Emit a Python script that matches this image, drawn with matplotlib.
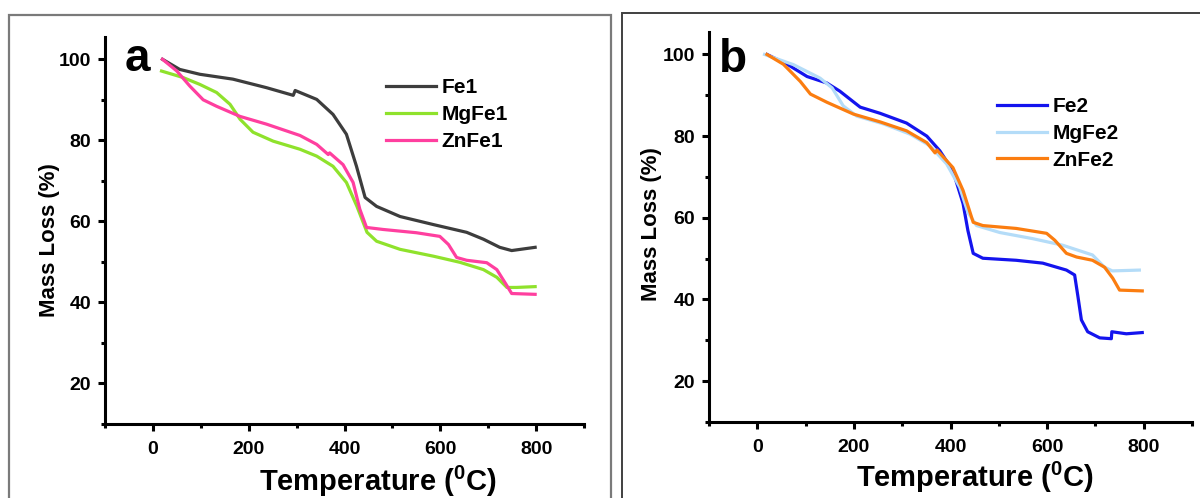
import matplotlib
matplotlib.use("Agg")
import matplotlib.pyplot as plt
from matplotlib.patches import Rectangle
from matplotlib.ticker import MultipleLocator

plt.rcParams['font.family'] = ['Liberation Sans', 'DejaVu Sans']
plt.rcParams['font.weight'] = 'bold'
plt.rcParams['mathtext.fontset'] = 'custom'
plt.rcParams['mathtext.rm'] = 'Liberation Sans:bold'
plt.rcParams['mathtext.bf'] = 'Liberation Sans:bold'
plt.rcParams['mathtext.default'] = 'bf'

# ---------------- data ----------------
fe1_t = [20, 56, 98, 167, 237, 293, 297, 342, 376, 404, 425, 443, 467, 516, 586, 655, 690, 724, 749, 798]
fe1_v = [100, 97.5, 96.3, 95.1, 93.0, 91.1, 92.3, 90.1, 86.4, 81.5, 73.6, 65.9, 63.7, 61.2, 59.2, 57.3, 55.6, 53.6, 52.8, 53.6]

mgfe1_t = [18, 63, 98, 133, 161, 182, 209, 251, 307, 342, 376, 404, 426, 447, 467, 516, 586, 641, 690, 718, 739, 759, 798]
mgfe1_v = [97.1, 95.5, 93.8, 91.8, 88.9, 85.2, 82.0, 79.8, 77.8, 76.1, 73.6, 69.6, 63.7, 57.3, 55.1, 53.1, 51.4, 49.9, 48.1, 46.2, 43.7, 43.7, 43.9]

znfe1_t = [20, 50, 77, 105, 133, 182, 237, 307, 342, 366, 369, 397, 418, 432, 446, 481, 550, 599, 617, 634, 655, 697, 718, 735, 749, 798]
znfe1_v = [100, 97.1, 93.4, 90.0, 88.4, 85.9, 84.0, 81.2, 79.0, 76.5, 76.9, 74.0, 69.6, 63.0, 58.5, 58.0, 57.2, 56.3, 54.3, 51.1, 50.4, 49.8, 48.1, 44.9, 42.2, 42.0]

fe2_t = [20, 62, 103, 144, 171, 213, 254, 309, 351, 378, 405, 426, 436, 447, 467, 536, 591, 640, 657, 664, 671, 684, 709, 733, 734, 764, 797]
fe2_v = [100, 97.6, 94.6, 93.0, 91.0, 87.1, 85.6, 83.2, 80.0, 76.4, 71.5, 63.5, 56.9, 51.3, 50.1, 49.6, 48.9, 47.2, 46.0, 40.6, 35.0, 32.1, 30.6, 30.4, 32.1, 31.6, 31.9]

mgfe2_t = [15, 75, 130, 155, 178, 206, 261, 316, 358, 392, 419, 436, 454, 502, 570, 632, 694, 719, 735, 791]
mgfe2_v = [100, 97.5, 94.2, 91.8, 87.4, 84.9, 83.0, 80.5, 77.6, 73.2, 67.5, 61.3, 58.1, 56.4, 54.9, 53.3, 50.9, 47.9, 47.0, 47.2]

znfe2_t = [20, 54, 89, 110, 144, 199, 254, 309, 351, 368, 372, 405, 426, 447, 467, 536, 599, 616, 640, 661, 694, 719, 736, 750, 797]
znfe2_v = [100, 97.6, 93.4, 90.3, 88.3, 85.4, 83.5, 81.3, 78.4, 75.9, 76.6, 72.3, 66.7, 58.9, 58.1, 57.4, 56.2, 54.5, 51.3, 50.4, 49.6, 47.9, 45.2, 42.3, 42.1]

labels_a = ['Fe1', 'MgFe1', 'ZnFe1']
labels_b = ['Fe2', 'MgFe2', 'ZnFe2']
colors_a = ['#3d3d3d', '#8fe22c', '#ff3f9f']
colors_b = ['#1414ee', '#b4dcf8', '#fb7d10']
xticks = [0, 200, 400, 600, 800]
yticks = [20, 40, 60, 80, 100]
xlabel = r'Temperature ($^{0}$C)'
ylabel = 'Mass Loss (%)'

# ---------------- figure ----------------
fig = plt.figure(figsize=(12, 4.98), dpi=100)

# panel frames
fig.patches.append(Rectangle((9 / 1200, -0.1), (611 - 9) / 1200, 1.1 - 15 / 498,
                             transform=fig.transFigure, fill=False, edgecolor='#7a7a7a', lw=1.6))
fig.patches.append(Rectangle((622 / 1200, -0.1), 0.6, 1.1 - 13 / 498,
                             transform=fig.transFigure, fill=False, edgecolor='#404040', lw=1.4))

ax_a = fig.add_axes([105 / 1200, 74 / 498, (584 - 105) / 1200, (461 - 74) / 498])
ax_b = fig.add_axes([709 / 1200, 76 / 498, (1192 - 709) / 1200, (466 - 76) / 498])


def style(ax, xl_pos, yl_pos):
    ax.set_xlim(-100, 900)
    ax.set_ylim(10, 105.5)
    for s in ['top', 'right']:
        ax.spines[s].set_visible(False)
    for s in ['left', 'bottom']:
        ax.spines[s].set_linewidth(2.2)
    ax.set_xticks(xticks)
    ax.set_yticks(yticks)
    ax.xaxis.set_minor_locator(MultipleLocator(100))
    ax.yaxis.set_minor_locator(MultipleLocator(10))
    ax.tick_params(which='major', direction='out', length=5, width=2.2, labelsize=14)
    ax.tick_params(axis='x', which='major', pad=7)
    ax.tick_params(axis='y', which='major', pad=5)
    ax.tick_params(which='minor', direction='out', length=3, width=2.2)
    for lab in ax.get_xticklabels() + ax.get_yticklabels():
        lab.set_fontweight('bold')
    ax.text(xl_pos[0], xl_pos[1], xlabel, transform=ax.transAxes, fontsize=21, fontweight='bold',
            ha='center', va='baseline', clip_on=False)
    ax.text(yl_pos[0], yl_pos[1], ylabel, transform=ax.transAxes, fontsize=16, fontweight='bold',
            ha='center', va='center', rotation=90, clip_on=False)
    ax.patch.set_alpha(0)


style(ax_a, (0.57, -0.172), (-0.115, 0.475))
style(ax_b, (0.55, -0.166), (-0.120, 0.508))

for t, v, c, l in zip([fe1_t, mgfe1_t, znfe1_t], [fe1_v, mgfe1_v, znfe1_v], colors_a, labels_a):
    ax_a.plot(t, v, color=c, lw=2.3, label=l, solid_joinstyle='round')
for t, v, c, l in zip([fe2_t, mgfe2_t, znfe2_t], [fe2_v, mgfe2_v, znfe2_v], colors_b, labels_b):
    ax_b.plot(t, v, color=c, lw=2.3, label=l, solid_joinstyle='round')

leg_a = ax_a.legend(loc='upper left', bbox_to_anchor=(0.57, 0.915), frameon=False, fontsize=15,
                    handlelength=2.4, handletextpad=0.25, labelspacing=0.38, borderaxespad=0)
leg_b = ax_b.legend(loc='upper left', bbox_to_anchor=(0.58, 0.855), frameon=False, fontsize=15,
                    handlelength=2.4, handletextpad=0.25, labelspacing=0.38, borderaxespad=0)
for leg in (leg_a, leg_b):
    for txt in leg.get_texts():
        txt.set_fontweight('bold')
    for h in leg.get_lines():
        h.set_linewidth(2.3)

ax_a.text(0.04, 1.0, 'a', transform=ax_a.transAxes, fontsize=33, fontweight='bold', va='top', ha='left')
ax_b.text(0.02, 0.985, 'b', transform=ax_b.transAxes, fontsize=33, fontweight='bold', va='top', ha='left')

fig.savefig('out.png', dpi=100)
